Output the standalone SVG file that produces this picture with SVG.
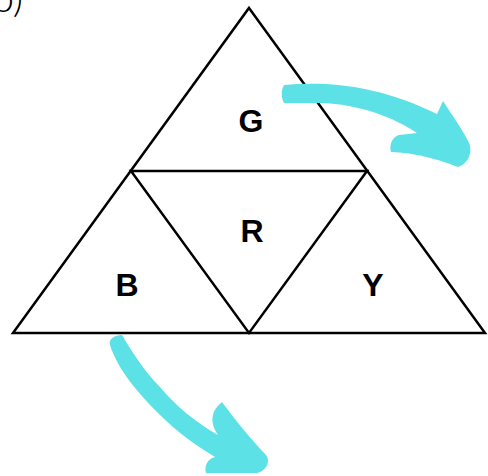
<svg xmlns="http://www.w3.org/2000/svg" width="488" height="476" viewBox="0 0 488 476">
<style>
.edge{fill:none;stroke:#000;stroke-width:2.5;stroke-linejoin:miter;stroke-linecap:round}
.lbl{font-family:"Liberation Sans",Arial,sans-serif;font-weight:bold;font-size:32px;fill:#000;text-anchor:middle}
.arrow{fill:#5CE1E6;stroke:none}
.tag{font-family:Lato,"Liberation Sans",sans-serif;font-weight:300;font-size:40px;fill:#000}
</style>
<rect width="488" height="476" fill="#fff"/>
<text class="tag" x="-8" y="12">b)</text>
<g id="triangle">
<polygon class="edge" points="249,8 485,333 13,333"/>
<polygon class="edge" points="131,171 367,171 249,333"/>
</g>
<g id="node-G"><text class="lbl" x="251" y="132">G</text></g>
<g id="node-R"><text class="lbl" x="252" y="242">R</text></g>
<g id="node-B"><text class="lbl" x="127" y="296">B</text></g>
<g id="node-Y"><text class="lbl" x="373" y="296">Y</text></g>
<g id="connectors">
<path class="arrow" d="M284,85 C330,81 380,86 437,114 L443,101 C452,115 463,130 469,143 C473,152 468,164 458,167 C445,162 420,153 391,152 C389,145 392,137 399,135 L417,133 C395,118 360,104 320,103 L284,103 C281,98 281,90 284,85 Z"/>
<path class="arrow" d="M110,345 C108,339 115,335 122,335 C132,352 145,372 160,387 C175,405 195,422 218,435 C211,425 209,412 222,402 C235,420 252,440 266,455 C271,462 266,471 257,473 L206,473 C204,467 207,459 215,457 C195,445 175,430 160,415 C138,393 118,370 110,345 Z"/>
</g>
</svg>
